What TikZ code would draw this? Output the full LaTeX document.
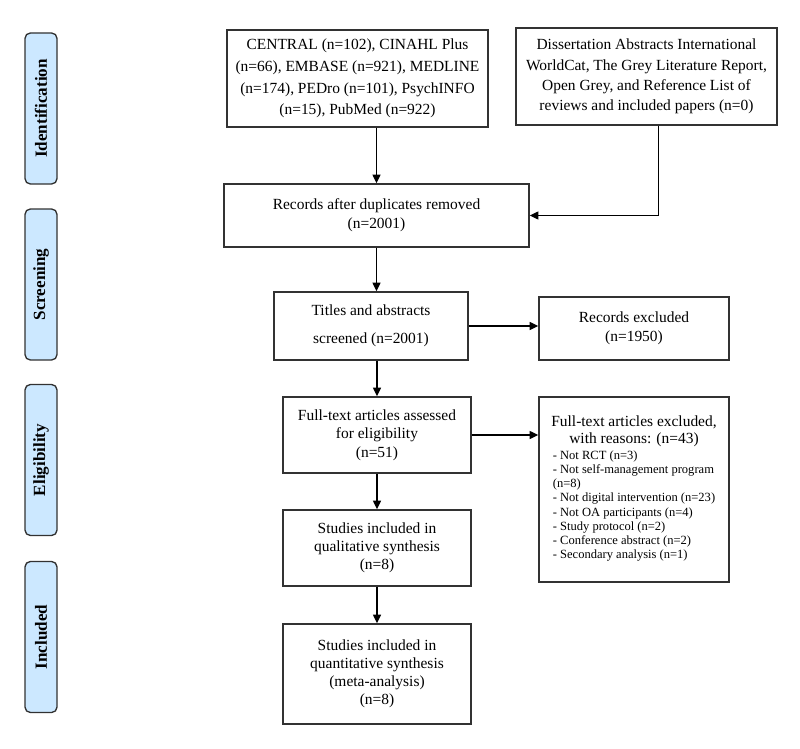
\documentclass[tikz,border=0pt]{standalone}
\usepackage{fontspec}
\setmainfont{Liberation Serif}
\usetikzlibrary{arrows.meta}
\definecolor{phasefill}{RGB}{204,232,255}
\definecolor{linecol}{RGB}{50,50,50}
\tikzset{
 box/.style={draw=linecol, line width=1.1pt, align=center, inner sep=2pt, font=\fontsize{11.6}{14.5}\selectfont},
 phase/.style={draw=linecol, line width=1pt, rounded corners=4pt, fill=phasefill, rotate=90, minimum width=113.25pt, minimum height=24pt, font=\bfseries\fontsize{12.8}{14}\selectfont, inner sep=0pt},
 arr/.style={draw=black, line width=1pt, -{Triangle[length=6.5pt,width=6pt]}}
}
\begin{document}
\begin{tikzpicture}[x=0.75pt,y=-0.75pt]
\useasboundingbox (0,0) rectangle (800,749);
% phase labels
\node[phase] (ident) at (41,108.5) {Identification};
\node[phase] (screen) at (41,284.5) {Screening};
\node[phase] (elig) at (41,460) {Eligibility};
\node[phase] (incl) at (41,637) {Included};
% boxes
\node[box, minimum width=195.75pt, minimum height=72.75pt, font=\fontsize{11.6}{16.2}\selectfont] (central) at (357.5,78.5)
 {CENTRAL (n=102), CINAHL Plus\\(n=66), EMBASE (n=921), MEDLINE\\(n=174), PEDro (n=101), PsychINFO\\(n=15), PubMed (n=922)};
\node[box, minimum width=195.75pt, minimum height=72.75pt, font=\fontsize{11.6}{15.2}\selectfont] (diss) at (646.5,76.5)
 {Dissertation Abstracts International\\WorldCat, The Grey Literature Report,\\Open Grey, and Reference List of\\reviews and included papers (n=0)};
\node[box, minimum width=228.75pt, minimum height=47.25pt] (records) at (376.5,215.5)
 {Records after duplicates removed\\(n=2001)};
\node[box, minimum width=145.5pt, minimum height=51pt, font=\fontsize{11.6}{21}\selectfont] (titles) at (371,326)
 {Titles and abstracts\\screened (n=2001)};
\node[box, minimum width=142.5pt, minimum height=47.25pt] (excl1) at (634,328.5)
 {Records excluded\\(n=1950)};
\node[box, minimum width=141pt, minimum height=57pt, font=\fontsize{11.6}{14}\selectfont] (full) at (377,435)
 {Full-text articles assessed\\for eligibility\\(n=51)};
\node[box, minimum width=142.5pt, minimum height=138.75pt, font=\fontsize{11.6}{12.5}\selectfont] (excl2) at (634,489.5)
 {Full-text articles excluded,\\with reasons: (n=43)\\[1pt]
 {\fontsize{9.4}{10.7}\selectfont\begin{tabular}{@{}l@{}}
 - Not RCT (n=3)\\
 - Not self-management program\\
 (n=8)\\
 - Not digital intervention (n=23)\\
 - Not OA participants (n=4)\\
 - Study protocol (n=2)\\
 - Conference abstract (n=2)\\
 - Secondary analysis (n=1)
 \end{tabular}}};
\node[box, minimum width=141pt, minimum height=57pt, font=\fontsize{11.6}{13.7}\selectfont] (qual) at (377,548)
 {Studies included in\\qualitative synthesis\\(n=8)};
\node[box, minimum width=141pt, minimum height=75pt, font=\fontsize{11.6}{13.5}\selectfont] (quant) at (377,674)
 {Studies included in\\quantitative synthesis\\(meta-analysis)\\(n=8)};
% connectors
\draw[arr] (central.south -| records.north) -- (records.north);
\draw[arr] ([xshift=9pt]diss.south) |- (records.east);
\draw[arr] (records.south) -- (records.south |- titles.north);
\draw[arr] (titles.east) -- (titles.east -| excl1.west);
\draw[arr] (titles.south -| full.north) -- (full.north);
\draw[arr] (full.east) -- (full.east -| excl2.west);
\draw[arr] (full.south) -- (qual.north);
\draw[arr] (qual.south) -- (quant.north);
\end{tikzpicture}
\end{document}
